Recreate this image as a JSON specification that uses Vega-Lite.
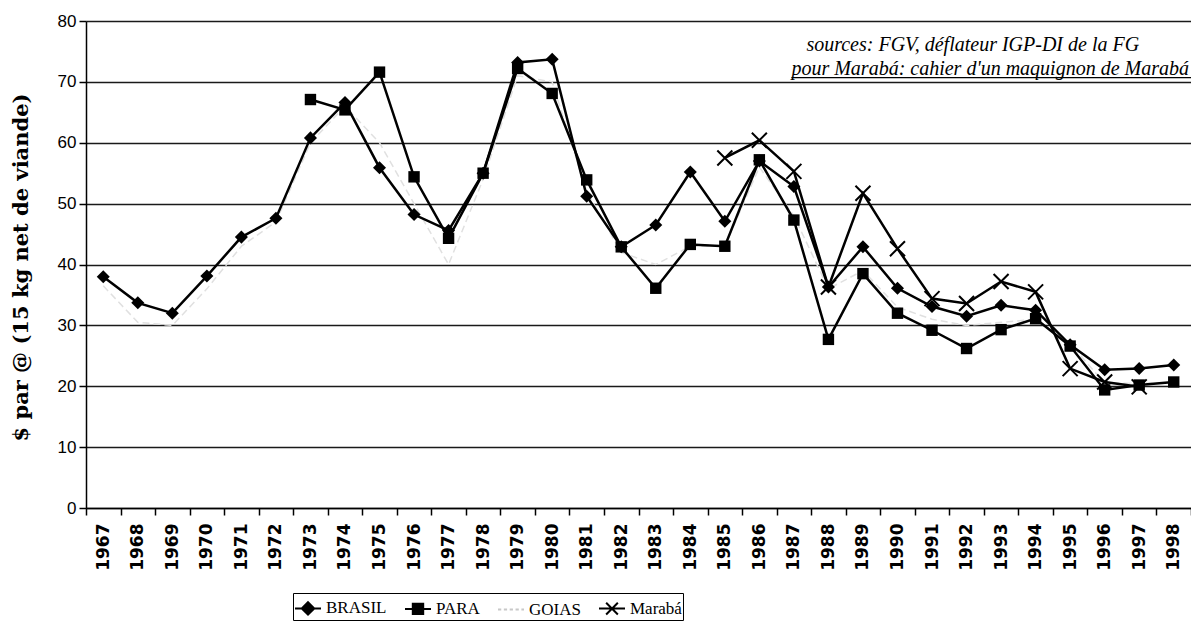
{
  "$schema": "https://vega.github.io/schema/vega-lite/v6.json",
  "width": 1105,
  "height": 487,
  "autosize": {"type": "none"},
  "padding": {"left": 86, "top": 21, "right": 0, "bottom": 120},
  "background": "white",
  "config": {
    "view": {"stroke": null},
    "legend": {
      "labelFont": "Liberation Serif",
      "labelFontSize": 17,
      "labelColor": "black",
      "labelOffset": 4,
      "columnPadding": 14,
      "symbolSize": 676,
      "symbolStrokeWidth": 2,
      "padding": 1,
      "strokeColor": "black",
      "fillColor": "white"
    }
  },
  "datasets": {
    "prices": [
      {"year": "1967", "series": "BRASIL", "value": 38.0},
      {"year": "1968", "series": "BRASIL", "value": 33.7},
      {"year": "1969", "series": "BRASIL", "value": 32.0},
      {"year": "1970", "series": "BRASIL", "value": 38.1},
      {"year": "1971", "series": "BRASIL", "value": 44.5},
      {"year": "1972", "series": "BRASIL", "value": 47.6},
      {"year": "1973", "series": "BRASIL", "value": 60.8},
      {"year": "1974", "series": "BRASIL", "value": 66.6},
      {"year": "1975", "series": "BRASIL", "value": 55.9},
      {"year": "1976", "series": "BRASIL", "value": 48.2},
      {"year": "1977", "series": "BRASIL", "value": 45.6},
      {"year": "1978", "series": "BRASIL", "value": 55.0},
      {"year": "1979", "series": "BRASIL", "value": 73.2},
      {"year": "1980", "series": "BRASIL", "value": 73.7},
      {"year": "1981", "series": "BRASIL", "value": 51.2},
      {"year": "1982", "series": "BRASIL", "value": 42.9},
      {"year": "1983", "series": "BRASIL", "value": 46.5},
      {"year": "1984", "series": "BRASIL", "value": 55.2},
      {"year": "1985", "series": "BRASIL", "value": 47.1},
      {"year": "1986", "series": "BRASIL", "value": 57.0},
      {"year": "1987", "series": "BRASIL", "value": 52.8},
      {"year": "1988", "series": "BRASIL", "value": 36.3},
      {"year": "1989", "series": "BRASIL", "value": 42.9},
      {"year": "1990", "series": "BRASIL", "value": 36.1},
      {"year": "1991", "series": "BRASIL", "value": 33.1},
      {"year": "1992", "series": "BRASIL", "value": 31.5},
      {"year": "1993", "series": "BRASIL", "value": 33.3},
      {"year": "1994", "series": "BRASIL", "value": 32.5},
      {"year": "1995", "series": "BRASIL", "value": 26.8},
      {"year": "1996", "series": "BRASIL", "value": 22.7},
      {"year": "1997", "series": "BRASIL", "value": 22.9},
      {"year": "1998", "series": "BRASIL", "value": 23.5},
      {"year": "1973", "series": "PARA", "value": 67.1},
      {"year": "1974", "series": "PARA", "value": 65.4},
      {"year": "1975", "series": "PARA", "value": 71.6},
      {"year": "1976", "series": "PARA", "value": 54.4},
      {"year": "1977", "series": "PARA", "value": 44.3},
      {"year": "1978", "series": "PARA", "value": 55.0},
      {"year": "1979", "series": "PARA", "value": 72.2},
      {"year": "1980", "series": "PARA", "value": 68.1},
      {"year": "1981", "series": "PARA", "value": 53.9},
      {"year": "1982", "series": "PARA", "value": 42.9},
      {"year": "1983", "series": "PARA", "value": 36.1},
      {"year": "1984", "series": "PARA", "value": 43.3},
      {"year": "1985", "series": "PARA", "value": 43.0},
      {"year": "1986", "series": "PARA", "value": 57.2},
      {"year": "1987", "series": "PARA", "value": 47.3},
      {"year": "1988", "series": "PARA", "value": 27.7},
      {"year": "1989", "series": "PARA", "value": 38.5},
      {"year": "1990", "series": "PARA", "value": 32.0},
      {"year": "1991", "series": "PARA", "value": 29.2},
      {"year": "1992", "series": "PARA", "value": 26.2},
      {"year": "1993", "series": "PARA", "value": 29.3},
      {"year": "1994", "series": "PARA", "value": 31.1},
      {"year": "1995", "series": "PARA", "value": 26.6},
      {"year": "1996", "series": "PARA", "value": 19.4},
      {"year": "1997", "series": "PARA", "value": 20.2},
      {"year": "1998", "series": "PARA", "value": 20.7},
      {"year": "1967", "series": "GOIAS", "value": 36.5},
      {"year": "1968", "series": "GOIAS", "value": 30.5},
      {"year": "1969", "series": "GOIAS", "value": 30.0},
      {"year": "1970", "series": "GOIAS", "value": 36.0},
      {"year": "1971", "series": "GOIAS", "value": 43.0},
      {"year": "1972", "series": "GOIAS", "value": 47.0},
      {"year": "1973", "series": "GOIAS", "value": 60.0},
      {"year": "1974", "series": "GOIAS", "value": 66.0},
      {"year": "1975", "series": "GOIAS", "value": 60.0},
      {"year": "1976", "series": "GOIAS", "value": 50.0},
      {"year": "1977", "series": "GOIAS", "value": 40.0},
      {"year": "1978", "series": "GOIAS", "value": 54.0},
      {"year": "1979", "series": "GOIAS", "value": 71.0},
      {"year": "1980", "series": "GOIAS", "value": 70.0},
      {"year": "1981", "series": "GOIAS", "value": 52.0},
      {"year": "1982", "series": "GOIAS", "value": 42.0},
      {"year": "1983", "series": "GOIAS", "value": 40.0},
      {"year": "1984", "series": "GOIAS", "value": 43.0},
      {"year": "1985", "series": "GOIAS", "value": 43.0},
      {"year": "1986", "series": "GOIAS", "value": 56.0},
      {"year": "1987", "series": "GOIAS", "value": 48.0},
      {"year": "1988", "series": "GOIAS", "value": 36.0},
      {"year": "1989", "series": "GOIAS", "value": 39.0},
      {"year": "1990", "series": "GOIAS", "value": 33.0},
      {"year": "1991", "series": "GOIAS", "value": 31.0},
      {"year": "1992", "series": "GOIAS", "value": 30.0},
      {"year": "1993", "series": "GOIAS", "value": 30.5},
      {"year": "1994", "series": "GOIAS", "value": 31.0},
      {"year": "1995", "series": "GOIAS", "value": 27.0},
      {"year": "1996", "series": "GOIAS", "value": 20.5},
      {"year": "1997", "series": "GOIAS", "value": 20.5},
      {"year": "1998", "series": "GOIAS", "value": 20.5},
      {"year": "1985", "series": "Marabá", "value": 57.5},
      {"year": "1986", "series": "Marabá", "value": 60.4},
      {"year": "1987", "series": "Marabá", "value": 55.3},
      {"year": "1988", "series": "Marabá", "value": 36.3},
      {"year": "1989", "series": "Marabá", "value": 51.7},
      {"year": "1990", "series": "Marabá", "value": 42.6},
      {"year": "1991", "series": "Marabá", "value": 34.4},
      {"year": "1992", "series": "Marabá", "value": 33.6},
      {"year": "1993", "series": "Marabá", "value": 37.2},
      {"year": "1994", "series": "Marabá", "value": 35.5},
      {"year": "1995", "series": "Marabá", "value": 22.9},
      {"year": "1996", "series": "Marabá", "value": 20.7},
      {"year": "1997", "series": "Marabá", "value": 19.9}
    ],
    "notes": [
      {"line": 1, "note": "sources: FGV, déflateur IGP-DI de la FG", "year": "1988", "value": 75.0},
      {"line": 2, "note": "pour Marabá: cahier d'un maquignon de Marabá", "year": "1988", "value": 71.2}
    ]
  },
  "encoding": {
    "x": {
      "field": "year",
      "type": "ordinal",
      "bandPosition": 0.5,
      "scale": {"type": "band", "paddingInner": 0, "paddingOuter": 0,
        "domain": ["1967","1968","1969","1970","1971","1972","1973","1974","1975","1976","1977","1978","1979","1980","1981","1982","1983","1984","1985","1986","1987","1988","1989","1990","1991","1992","1993","1994","1995","1996","1997","1998"]},
      "axis": {
        "title": null,
        "labelAngle": 270,
        "labelFont": "DejaVu Sans",
        "labelFontWeight": "bold",
        "labelFontSize": 17,
        "labelColor": "black",
        "labelPadding": 8,
        "tickBand": "extent",
        "tickSize": 7,
        "tickColor": "black",
        "tickWidth": 1.5,
        "domainColor": "black",
        "domainWidth": 1.5,
        "grid": false
      }
    },
    "y": {
      "field": "value",
      "type": "quantitative",
      "scale": {"domain": [0, 80], "nice": false, "zero": true},
      "axis": {
        "title": "$ par @ (15 kg net de viande)",
        "titleFont": "DejaVu Serif",
        "titleFontWeight": "bold",
        "titleFontSize": 21,
        "titleColor": "black",
        "titleAngle": 270,
        "titleX": -65,
        "titleY": 246,
        "titleAlign": "center",
        "titleBaseline": "middle",
        "values": [0, 10, 20, 30, 40, 50, 60, 70, 80],
        "labelFont": "Liberation Sans",
        "labelFontSize": 17,
        "labelColor": "black",
        "labelPadding": 3,
        "tickSize": 7,
        "tickColor": "black",
        "tickWidth": 1.5,
        "domainColor": "black",
        "domainWidth": 1.5,
        "grid": true,
        "gridColor": "#1a1a1a",
        "gridWidth": 1.5
      }
    }
  },
  "layer": [
    {
      "data": {"name": "prices"},
      "transform": [{"filter": "datum.series === 'GOIAS'"}],
      "mark": {"type": "line", "color": "#e0e0e0", "strokeWidth": 1.5, "strokeDash": [7, 4]}
    },
    {
      "data": {"name": "prices"},
      "transform": [{"filter": "datum.series !== 'GOIAS'"}],
      "mark": {"type": "line", "color": "black", "strokeWidth": 2.5},
      "encoding": {"detail": {"field": "series"}}
    },
    {
      "data": {"name": "prices"},
      "transform": [{"filter": "datum.series === 'BRASIL'"}],
      "mark": {"type": "point", "shape": "diamond", "filled": true, "color": "black", "opacity": 1, "size": 170}
    },
    {
      "data": {"name": "prices"},
      "transform": [{"filter": "datum.series === 'PARA'"}],
      "mark": {"type": "point", "shape": "square", "filled": true, "color": "black", "opacity": 1, "size": 130}
    },
    {
      "data": {"name": "prices"},
      "transform": [{"filter": "datum.series === 'Marabá'"}],
      "mark": {"type": "point", "shape": "M-1,-1L1,1M-1,1L1,-1", "filled": false, "color": "black", "opacity": 1, "strokeWidth": 2, "size": 225}
    },
    {
      "data": {"name": "prices"},
      "transform": [{"filter": "false"}],
      "mark": {"type": "point", "filled": true, "opacity": 1, "strokeWidth": 2},
      "encoding": {
        "shape": {
          "field": "series",
          "type": "nominal",
          "scale": {
            "domain": ["BRASIL", "PARA", "GOIAS", "Marabá"],
            "range": [
              "M-1,0H1M0,-0.48L0.48,0L0,0.48L-0.48,0Z",
              "M-1,0H1M-0.4,-0.4H0.4V0.4H-0.4Z",
              "M-1,0H-0.75M-0.55,0H-0.3M-0.1,0H0.15M0.35,0H0.6M0.8,0H1",
              "M-1,0H1M-0.45,-0.45L0.45,0.45M-0.45,0.45L0.45,-0.45"
            ]
          },
          "legend": {"title": null, "orient": "none", "direction": "horizontal", "legendX": 207, "legendY": 572}
        },
        "fill": {
          "field": "series",
          "type": "nominal",
          "scale": {"domain": ["BRASIL", "PARA", "GOIAS", "Marabá"], "range": ["black", "black", "#c8c8c8", "black"]},
          "legend": {"title": null, "orient": "none", "direction": "horizontal", "legendX": 207, "legendY": 572}
        },
        "stroke": {
          "field": "series",
          "type": "nominal",
          "scale": {"domain": ["BRASIL", "PARA", "GOIAS", "Marabá"], "range": ["black", "black", "#c8c8c8", "black"]},
          "legend": {"title": null, "orient": "none", "direction": "horizontal", "legendX": 207, "legendY": 572}
        }
      }
    },
    {
      "data": {"name": "notes"},
      "transform": [{"filter": "datum.line === 1"}],
      "mark": {"type": "text", "font": "Liberation Serif", "fontStyle": "italic", "fontSize": 20, "align": "left", "baseline": "alphabetic", "color": "black", "dx": -22},
      "encoding": {"text": {"field": "note"}}
    },
    {
      "data": {"name": "notes"},
      "transform": [{"filter": "datum.line === 2"}],
      "mark": {"type": "text", "font": "Liberation Serif", "fontStyle": "italic", "fontSize": 20, "align": "left", "baseline": "alphabetic", "color": "black", "dx": -37},
      "encoding": {"text": {"field": "note"}}
    },
    {
      "data": {"name": "notes"},
      "transform": [{"filter": "datum.line === 2"}],
      "mark": {"type": "rule", "color": "black", "strokeWidth": 1.2, "xOffset": -37, "x2Offset": 20, "yOffset": 3, "clip": true},
      "encoding": {"x2": {"datum": "1998"}}
    }
  ]
}
